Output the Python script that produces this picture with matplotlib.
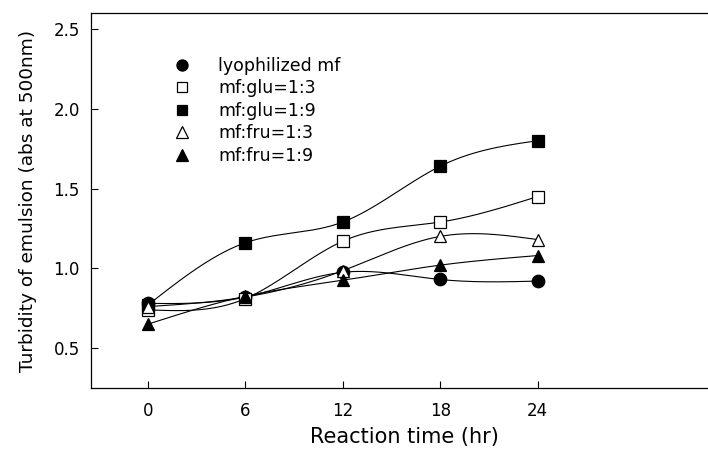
import numpy as np
import matplotlib
matplotlib.use("Agg")
import matplotlib.pyplot as plt
from matplotlib.lines import Line2D

plt.rcParams['font.family'] = ['DejaVu Sans']

# data
hours = [0, 6, 12, 18, 24]
lyophilized = [0.78, 0.82, 0.975, 0.93, 0.92]
glu_13 = [0.74, 0.81, 1.17, 1.29, 1.45]
glu_19 = [0.77, 1.16, 1.29, 1.64, 1.80]
fru_13 = [0.76, 0.82, 0.985, 1.20, 1.18]
fru_19 = [0.65, 0.825, 0.925, 1.02, 1.08]

labels = ['lyophilized mf', 'mf:glu=1:3', 'mf:glu=1:9', 'mf:fru=1:3', 'mf:fru=1:9']
markers = ['o', 's', 's', '^', '^']
fills = ['black', 'white', 'black', 'white', 'black']
msizes = [9, 8, 8, 9, 9]


def natural_spline(x, y, n=200):
    """Smooth curve through the points (natural cubic spline), like SigmaPlot."""
    x = np.asarray(x, float)
    y = np.asarray(y, float)
    k = len(x)
    h = np.diff(x)
    A = np.zeros((k, k))
    b = np.zeros(k)
    A[0, 0] = A[-1, -1] = 1.0
    for i in range(1, k - 1):
        A[i, i - 1] = h[i - 1]
        A[i, i] = 2 * (h[i - 1] + h[i])
        A[i, i + 1] = h[i]
        b[i] = 6 * ((y[i + 1] - y[i]) / h[i] - (y[i] - y[i - 1]) / h[i - 1])
    m = np.linalg.solve(A, b)
    xs = np.linspace(x[0], x[-1], n)
    idx = np.clip(np.searchsorted(x, xs) - 1, 0, k - 2)
    x0, x1 = x[idx], x[idx + 1]
    hh = x1 - x0
    t0, t1 = x1 - xs, xs - x0
    ys = (m[idx] * t0 ** 3 / (6 * hh) + m[idx + 1] * t1 ** 3 / (6 * hh)
          + (y[idx] / hh - m[idx] * hh / 6) * t0
          + (y[idx + 1] / hh - m[idx + 1] * hh / 6) * t1)
    return xs, ys


fig = plt.figure(figsize=(7.08, 4.53), dpi=100)
ax = fig.add_axes([91 / 708, 65 / 453, 640 / 708, 375 / 453])

series = [lyophilized, glu_13, glu_19, fru_13, fru_19]
handles = []
for vals, mk, fc, ms, lab in zip(series, markers, fills, msizes, labels):
    xs, ys = natural_spline(hours, vals)
    ax.plot(xs, ys, color='black', lw=0.8, zorder=2)
    ax.plot(hours, vals, linestyle='none', marker=mk, markersize=ms,
            markerfacecolor=fc, markeredgecolor='black', markeredgewidth=0.9, zorder=3)
    handles.append(Line2D([], [], linestyle='none', marker=mk, markersize=ms - 1,
                          markerfacecolor=fc, markeredgecolor='black', markeredgewidth=0.9,
                          label=lab))

ax.set_xlim(-3.5, 35.9)
ax.set_ylim(0.25, 2.6)
ax.set_xticks(hours)
ax.set_yticks([0.5, 1.0, 1.5, 2.0, 2.5])
ax.set_yticklabels(['0.5', '1.0', '1.5', '2.0', '2.5'])
ax.tick_params(direction='in', length=5, width=0.8, labelsize=12)
ax.tick_params(axis='x', pad=10)
ax.tick_params(axis='y', pad=8)
ax.spines['right'].set_visible(False)
for s in ['left', 'top', 'bottom']:
    ax.spines[s].set_linewidth(0.9)

ax.set_xlabel('Reaction time (hr)', fontsize=15, labelpad=5)
ax.xaxis.label.set_x(0.489)
ax.set_ylabel('Turbidity of emulsion (abs at 500nm)', fontsize=13.3, labelpad=12)

ax.legend(handles=handles, loc='upper left', bbox_to_anchor=(0.1286, 0.883),
          frameon=False, fontsize=12.5, handlelength=1.0, handletextpad=1.57,
          labelspacing=0.26, borderaxespad=0, borderpad=0)

fig.savefig('out.png', dpi=100)
